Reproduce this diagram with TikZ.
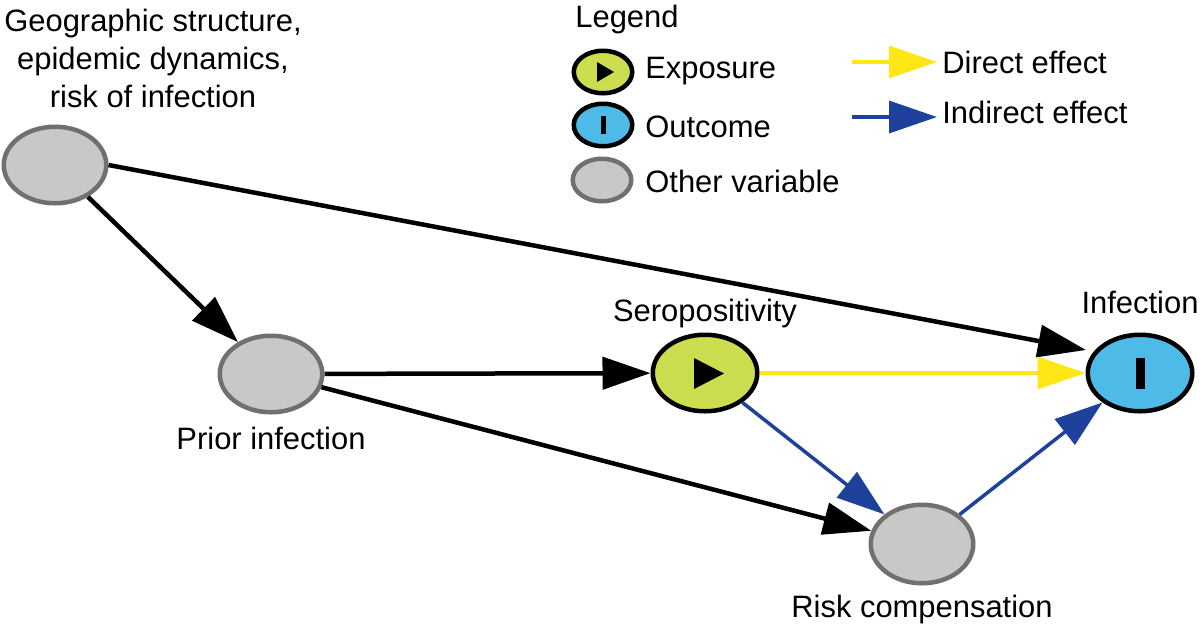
\documentclass[tikz,border=0pt]{standalone}
\usepackage{fontspec}
\setmainfont{Liberation Sans}
\usetikzlibrary{shapes.geometric, arrows.meta, positioning}
\definecolor{othergray}{RGB}{200,200,200}
\definecolor{edgegray}{RGB}{112,112,112}
\definecolor{exposuregreen}{RGB}{205,221,80}
\definecolor{outcomeblue}{RGB}{78,186,232}
\definecolor{directyellow}{RGB}{255,230,20}
\definecolor{indirectblue}{RGB}{30,66,155}

\begin{document}
\begin{tikzpicture}[
    font=\fontsize{17.6}{21.6}\selectfont,
    other/.style={ellipse, draw=edgegray, fill=othergray, line width=0.09cm, minimum width=2.05cm, minimum height=1.53cm, inner sep=0pt},
    exposure/.style={other, draw=black, fill=exposuregreen, minimum width=2.09cm},
    outcome/.style={other, draw=black, fill=outcomeblue, minimum width=2.09cm},
    legsym/.style={minimum width=1.17cm, minimum height=0.85cm},
    lbl/.style={inner sep=0pt, text height=0.45cm, text depth=0.13cm},
    arrow/.style={-{Triangle[length=0.96cm, width=0.64cm]}, line width=0.09cm},
    direct/.style={arrow, directyellow, line width=0.07cm},
    indirect/.style={arrow, indirectblue, line width=0.07cm}
]

\useasboundingbox (0,0) rectangle (24,-12.6);

% Variables
\node[other] (geo) at (1.10,-3.30) {};
\node[other] (prior) at (5.42,-7.48) {};
\node[exposure] (sero) at (14.10,-7.46) {};
\node[outcome] (inf) at (22.80,-7.46) {};
\node[other, minimum height=1.57cm] (risk) at (18.44,-10.88) {};

% Exposure and outcome marks
\fill (sero.center) ++(-0.22,0.30) -- ++(0,-0.62) -- ++(0.60,0.31) -- cycle;
\fill ([xshift=-0.09cm, yshift=-0.31cm]inf.center) rectangle ++(0.18,0.62);

% Labels
\node[inner sep=0pt, anchor=north, align=center] (geotext) at (3.06,-0.18) {Geographic structure,\\epidemic dynamics,\\risk of infection};
\node[lbl, below=0.24cm of prior] (priortext) {Prior infection};
\node[lbl, above=0.09cm of sero] (serotext) {Seropositivity};
\node[lbl, above=0.25cm of inf] (inftext) {Infection};
\node[lbl, below=0.18cm of risk] (risktext) {Risk compensation};

% Legend
\node[lbl, anchor=base west] (legendtitle) at (11.50,-0.54) {Legend};
\node[exposure, legsym] (legexp) at (12.06,-1.44) {};
\node[outcome, legsym] (legout) at (12.06,-2.50) {};
\node[other, legsym] (legoth) at (12.04,-3.60) {};
\fill (legexp.center) ++(-0.12,0.20) -- ++(0,-0.40) -- ++(0.34,0.20) -- cycle;
\fill ([xshift=-0.05cm, yshift=-0.18cm]legout.center) rectangle ++(0.10,0.36);
\node[lbl, anchor=base west] (exptext) at (12.90,-1.56) {Exposure};
\node[lbl, anchor=base west] (outtext) at (12.90,-2.74) {Outcome};
\node[lbl, anchor=base west] (othtext) at (12.90,-3.84) {Other variable};

\coordinate (dirstart) at (17.04,-1.24);
\coordinate (dirend) at (18.74,-1.24);
\coordinate (indstart) at (17.04,-2.34);
\coordinate (indend) at (18.74,-2.34);
\draw[direct] (dirstart) -- (dirend);
\draw[indirect] (indstart) -- (indend);
\node[lbl, anchor=base west] (dirtext) at (18.84,-1.46) {Direct effect};
\node[lbl, anchor=base west] (indtext) at (18.84,-2.46) {Indirect effect};

% Arrows
\draw[arrow] (geo) -- (prior);
\draw[arrow, shorten >=0.16cm] (geo.east) -- (inf.155);
\draw[arrow] (prior) -- (sero);
\draw[arrow] (prior) -- (risk);
\draw[direct] (sero) -- (inf);
\draw[indirect] (sero) -- (risk);
\draw[indirect] (risk) -- (inf);

\end{tikzpicture}
\end{document}
